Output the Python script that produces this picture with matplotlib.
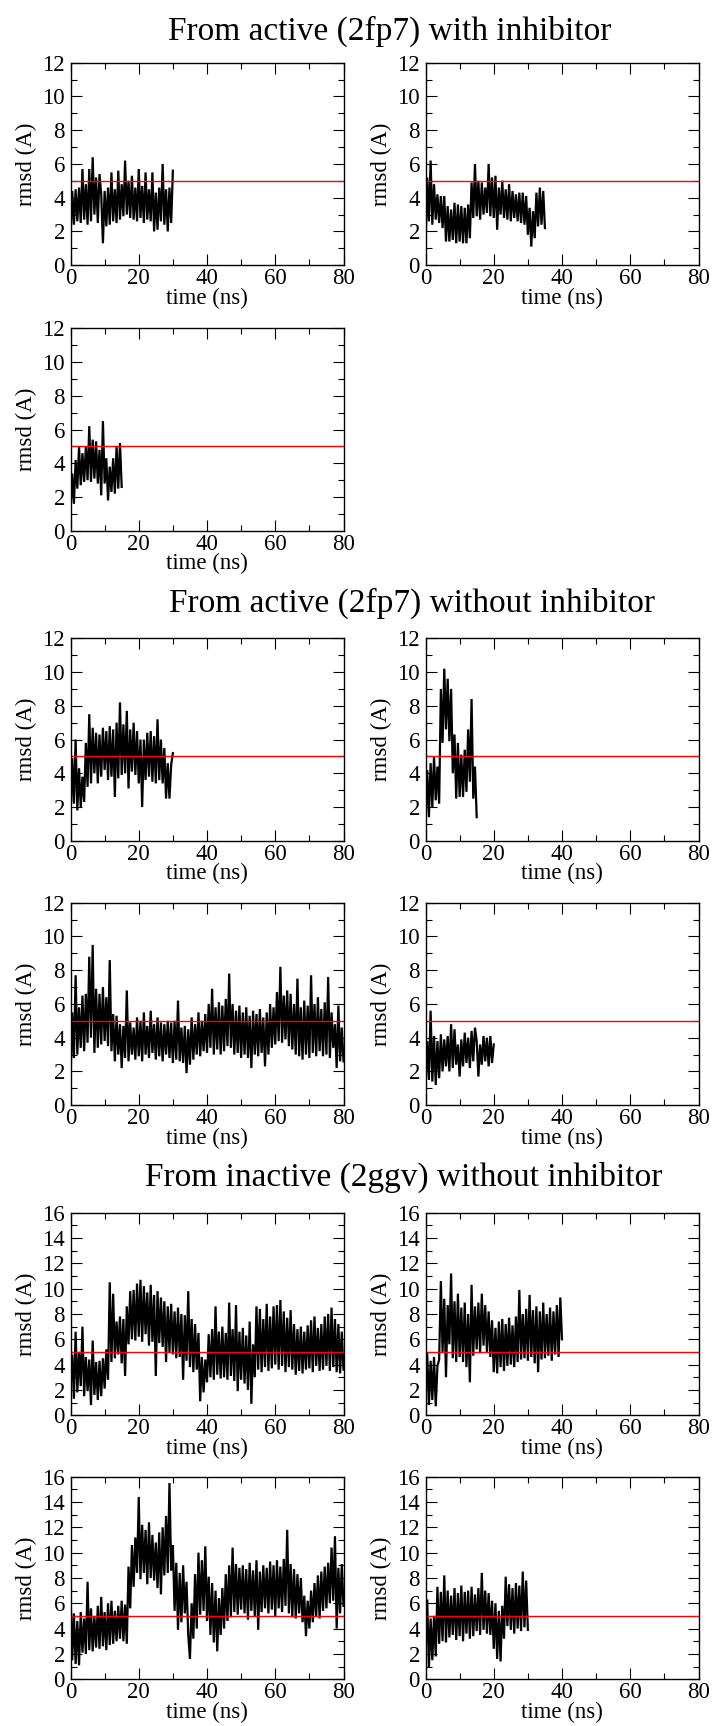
import numpy as np
import matplotlib
matplotlib.use("Agg")
import matplotlib.pyplot as plt
from matplotlib.ticker import MultipleLocator

plt.rcParams['font.family'] = ['Liberation Serif', 'DejaVu Serif']

STEP = 0.5  # ns between read-off samples
CUTOFF = 5.0

titles = ["From active (2fp7) with inhibitor",
          "From active (2fp7) without inhibitor",
          "From inactive (2ggv) without inhibitor"]
ymax = [12, 12, 16]

# group 1: active with inhibitor
g1_a = [1.6, 4.4, 2.4, 4.5, 2.6, 4.6, 2.5, 5.7, 2.7, 4.8,
        2.4, 5.7, 2.6, 6.4, 3.0, 5.2, 2.5, 5.4, 4.2, 1.3,
        4.4, 2.3, 4.6, 2.4, 5.5, 2.6, 4.5, 2.5, 5.6, 2.7,
        4.8, 2.9, 6.2, 3.0, 5.0, 2.8, 5.3, 2.7, 4.6, 2.6,
        5.7, 2.8, 4.7, 2.5, 5.5, 2.7, 4.5, 2.6, 5.5, 2.0,
        4.3, 2.1, 4.6, 2.6, 6.0, 2.4, 4.5, 2.0, 4.6, 2.5,
        5.6]
g1_b = [0.9, 5.2, 2.6, 6.2, 2.4, 4.8, 2.7, 4.2, 2.5, 4.1,
        2.2, 4.1, 1.4, 3.5, 1.4, 3.3, 1.5, 3.7, 1.3, 3.6,
        1.4, 3.5, 1.3, 3.4, 1.3, 3.6, 1.6, 4.9, 2.8, 6.0,
        2.9, 5.0, 2.7, 4.9, 3.0, 4.6, 3.1, 6.0, 2.9, 5.2,
        2.8, 5.3, 2.1, 4.6, 3.0, 5.0, 2.8, 4.5, 2.7, 4.8,
        2.6, 4.4, 2.8, 4.2, 2.6, 4.3, 2.5, 4.3, 2.4, 4.1,
        1.8, 3.4, 1.1, 3.2, 1.6, 4.3, 2.3, 4.6, 2.4, 4.4,
        2.2]
g1_c = [1.1, 3.4, 1.6, 4.2, 2.5, 5.0, 2.7, 4.6, 2.9, 5.0,
        3.0, 6.2, 2.9, 5.4, 3.1, 5.3, 2.8, 4.8, 2.1, 6.5,
        2.8, 4.3, 1.8, 3.8, 2.3, 4.3, 2.2, 5.0, 2.5, 5.2,
        2.6]

# group 2: active without inhibitor
g2_a = [1.3, 4.9, 2.2, 6.0, 1.8, 4.3, 2.0, 3.8, 2.3, 5.8,
        3.2, 7.5, 3.4, 6.7, 4.0, 6.4, 3.4, 6.3, 3.8, 6.7,
        4.2, 6.5, 3.6, 6.8, 3.8, 6.6, 2.6, 7.0, 3.7, 8.2,
        3.9, 6.9, 4.0, 7.7, 3.1, 6.6, 4.1, 7.0, 3.9, 6.5,
        3.4, 6.0, 2.0, 6.0, 3.6, 6.4, 3.8, 6.5, 3.5, 6.2,
        3.4, 7.2, 3.6, 6.0, 3.4, 5.5, 2.5, 4.6, 2.5, 4.5,
        5.2]
g2_b = [0.9, 4.2, 1.4, 4.6, 2.0, 5.0, 2.4, 4.4, 2.2, 9.0,
        5.8, 10.2, 6.6, 9.6, 5.9, 9.0, 4.0, 6.3, 2.5, 5.8,
        2.6, 5.1, 2.6, 5.4, 2.9, 6.6, 3.5, 8.4, 2.5, 4.4,
        1.4]
g2_c = [1.3, 5.5, 2.8, 7.7, 3.0, 5.8, 3.4, 6.5, 3.2, 6.6,
        3.7, 8.8, 4.0, 9.5, 3.1, 6.9, 3.4, 6.6, 3.6, 7.0,
        3.8, 6.4, 3.5, 8.6, 3.2, 5.4, 2.6, 5.3, 3.0, 4.8,
        2.2, 4.7, 2.8, 6.8, 2.6, 4.9, 3.0, 4.6, 2.7, 5.2,
        2.9, 5.0, 2.6, 5.5, 3.0, 4.7, 2.8, 5.6, 3.1, 4.8,
        2.7, 5.2, 2.9, 4.9, 2.6, 4.8, 3.0, 5.0, 2.8, 4.9,
        2.5, 5.0, 2.7, 6.2, 2.6, 4.6, 2.5, 4.7, 1.9, 4.5,
        2.4, 5.2, 2.7, 4.8, 3.0, 5.5, 2.9, 5.0, 3.2, 5.4,
        3.1, 6.0, 3.4, 6.9, 3.0, 5.8, 3.3, 6.1, 3.0, 5.9,
        3.2, 6.3, 3.5, 7.8, 3.4, 6.0, 3.0, 5.6, 3.1, 5.9,
        2.8, 5.5, 3.0, 5.8, 2.8, 5.3, 2.2, 5.6, 3.0, 5.4,
        2.9, 5.7, 3.1, 5.2, 2.3, 5.5, 3.0, 6.0, 3.4, 5.8,
        3.6, 6.7, 3.8, 8.2, 3.7, 6.5, 3.9, 6.8, 3.5, 6.6,
        3.3, 6.0, 3.0, 7.5, 2.9, 5.8, 2.7, 6.2, 3.0, 5.9,
        2.8, 7.7, 3.1, 6.0, 2.9, 6.4, 3.2, 5.7, 2.9, 6.1,
        3.0, 7.6, 2.8, 5.5, 3.4, 4.8, 2.2, 5.9, 2.6, 4.6,
        2.6]
g2_d = [1.0, 3.8, 1.5, 5.6, 1.4, 4.1, 1.2, 3.8, 1.6, 4.2,
        2.0, 3.9, 2.3, 4.1, 2.0, 4.8, 2.2, 4.5, 2.4, 3.6,
        1.7, 3.9, 2.3, 4.3, 2.5, 4.0, 2.2, 4.4, 2.6, 4.6,
        3.8, 1.7, 3.6, 2.4, 4.1, 2.6, 4.0, 2.3, 4.1, 2.5,
        3.6]

# group 3: inactive without inhibitor
g3_a = [3.0, 4.8, 1.3, 6.6, 1.8, 5.0, 2.3, 7.0, 1.5, 4.6,
        1.9, 4.4, 0.8, 5.9, 1.6, 4.2, 1.2, 4.3, 1.5, 4.5,
        2.1, 5.2, 2.8, 10.5, 4.2, 9.6, 4.5, 7.4, 4.8, 7.8,
        4.1, 7.6, 3.1, 8.6, 5.6, 9.8, 6.0, 9.9, 5.9, 10.4,
        6.2, 10.7, 5.8, 10.2, 6.4, 9.7, 5.5, 10.3, 5.8, 9.5,
        3.1, 9.8, 5.7, 9.3, 5.4, 9.0, 4.2, 8.6, 5.0, 8.8,
        4.8, 8.2, 4.5, 8.5, 4.6, 8.0, 2.8, 7.9, 4.3, 9.8,
        3.8, 7.6, 3.4, 7.2, 3.6, 6.5, 1.1, 4.6, 1.8, 4.4,
        2.6, 6.4, 3.0, 6.8, 2.8, 8.6, 3.2, 6.6, 2.9, 7.0,
        3.0, 6.5, 2.8, 8.9, 3.1, 6.8, 2.7, 8.7, 1.9, 6.6,
        2.8, 6.9, 2.5, 6.3, 2.0, 7.4, 0.9, 5.6, 3.0, 8.6,
        3.6, 8.4, 3.4, 7.6, 3.8, 8.8, 3.5, 7.8, 3.7, 8.6,
        4.0, 8.7, 3.6, 9.1, 3.9, 8.2, 3.4, 7.7, 3.8, 8.3,
        3.6, 7.2, 3.2, 6.8, 3.5, 7.0, 3.3, 6.6, 3.6, 7.1,
        3.7, 7.5, 3.4, 7.8, 3.9, 6.9, 3.5, 7.2, 3.6, 7.8,
        3.9, 8.0, 3.5, 8.5, 3.8, 7.6, 3.4, 7.2, 3.3, 6.6,
        3.6]
g3_b = [1.0, 4.9, 0.8, 4.3, 1.2, 4.6, 0.7, 3.9, 4.4, 10.6,
        5.0, 9.2, 3.0, 8.7, 5.6, 11.2, 4.5, 9.0, 4.2, 9.6,
        4.6, 8.5, 4.2, 8.9, 3.8, 8.0, 2.6, 10.3, 4.7, 8.6,
        5.2, 8.9, 4.9, 9.6, 5.5, 8.7, 5.0, 8.2, 4.6, 7.5,
        3.4, 6.9, 3.3, 7.4, 3.8, 7.6, 3.5, 7.2, 3.9, 7.7,
        4.0, 7.1, 3.8, 7.8, 4.2, 9.9, 4.4, 8.0, 4.5, 8.4,
        4.3, 9.5, 4.6, 8.3, 4.1, 8.6, 3.4, 8.2, 4.4, 8.9,
        4.5, 8.0, 4.7, 8.5, 4.3, 8.2, 4.8, 8.7, 4.6, 9.3,
        6.0]
g3_c = [6.9, 1.5, 5.2, 1.2, 4.6, 1.1, 5.3, 2.1, 4.8, 2.0,
        7.7, 2.3, 5.6, 2.2, 5.0, 2.5, 5.8, 2.4, 6.5, 2.6,
        5.3, 2.3, 6.0, 2.7, 6.2, 2.8, 5.4, 3.0, 5.8, 3.2,
        6.2, 3.0, 5.9, 2.8, 8.9, 5.6, 10.6, 7.3, 11.2, 8.4,
        14.4, 7.9, 12.2, 8.4, 11.8, 7.5, 12.4, 8.0, 11.4, 7.8,
        10.8, 7.2, 11.6, 6.7, 12.0, 8.2, 12.9, 8.4, 15.5, 8.6,
        10.6, 5.4, 9.2, 3.9, 8.4, 4.5, 9.0, 5.2, 7.7, 3.5,
        1.6, 6.0, 3.2, 8.3, 4.0, 10.0, 5.1, 9.4, 5.4, 10.5,
        4.6, 8.1, 3.5, 7.6, 2.9, 7.0, 2.2, 6.4, 3.5, 7.2,
        4.0, 8.3, 4.6, 9.0, 4.9, 10.4, 5.3, 9.1, 5.1, 8.8,
        5.5, 9.0, 5.2, 8.7, 4.7, 9.2, 5.4, 8.6, 5.0, 9.4,
        3.9, 8.5, 5.3, 9.0, 5.6, 8.8, 5.2, 9.3, 5.5, 9.0,
        5.0, 9.4, 5.6, 8.9, 5.3, 9.5, 5.8, 11.8, 5.2, 9.1,
        4.9, 8.7, 4.8, 8.3, 5.2, 8.0, 4.5, 6.6, 3.4, 6.2,
        4.0, 7.0, 4.5, 7.6, 5.0, 8.2, 4.8, 8.5, 5.4, 8.9,
        5.6, 9.2, 6.0, 10.4, 6.2, 11.3, 4.0, 8.8, 5.2, 9.1,
        5.8]
g3_d = [2.0, 6.3, 0.9, 4.8, 1.5, 5.0, 1.8, 7.3, 2.8, 6.9,
        3.0, 8.2, 2.9, 7.0, 3.3, 6.6, 3.5, 7.2, 3.1, 6.8,
        3.4, 7.4, 3.0, 6.9, 3.6, 7.0, 3.2, 7.3, 3.4, 6.7,
        3.8, 7.2, 3.5, 8.4, 3.9, 7.0, 3.6, 6.8, 3.5, 6.2,
        2.4, 6.0, 1.6, 5.4, 1.4, 5.8, 3.2, 8.1, 4.2, 7.5,
        3.9, 7.2, 3.6, 7.6, 4.0, 7.4, 3.8, 8.5, 4.1, 7.8,
        3.9]

groups = [[g1_a, g1_b, g1_c],
          [g2_a, g2_b, g2_c, g2_d],
          [g3_a, g3_b, g3_c, g3_d]]

W, H = 712, 1726
fig = plt.figure(figsize=(W / 100, H / 100), dpi=100)

col_left = [70.5, 425.5]
ax_w = 273.0
ax_h = 202.5
row_top = [[62.7, 328.3], [638.3, 902.7], [1212.7, 1476.7]]
title_y = [31, 603, 1177]
title_x = [389.6, 411.6, 403.4]

for g, series in enumerate(groups):
    fig.text(title_x[g] / W, 1 - title_y[g] / H, titles[g],
             ha='center', va='center', fontsize=24)
    for i, vals in enumerate(series):
        r, c = divmod(i, 2)
        top = row_top[g][r]
        ax = fig.add_axes([col_left[c] / W, 1 - (top + ax_h) / H, ax_w / W, ax_h / H])
        t = np.arange(len(vals)) * STEP
        ax.plot(t, vals, color='black', lw=1.6, solid_joinstyle='miter')
        ax.axhline(CUTOFF, color='red', lw=1.0)
        ax.set_xlim(0, 80)
        ax.set_ylim(0, ymax[g])
        ax.xaxis.set_major_locator(MultipleLocator(20))
        ax.xaxis.set_minor_locator(MultipleLocator(10))
        ax.yaxis.set_major_locator(MultipleLocator(2))
        ax.yaxis.set_minor_locator(MultipleLocator(1))
        ax.tick_params(which='both', direction='in', top=True, right=True, width=0.8)
        ax.tick_params(which='major', length=8)
        ax.tick_params(which='minor', length=4.3)
        ax.tick_params(axis='x', pad=2, labelsize=16.5)
        ax.tick_params(axis='y', pad=4, labelsize=16.5)
        for s in ax.spines.values():
            s.set_linewidth(1.0)
        ax.set_xlabel("time (ns)", fontsize=16.5, labelpad=-1)
        ax.set_ylabel("rmsd (A)", fontsize=16.5, labelpad=4)

fig.savefig("out.png", dpi=100)
